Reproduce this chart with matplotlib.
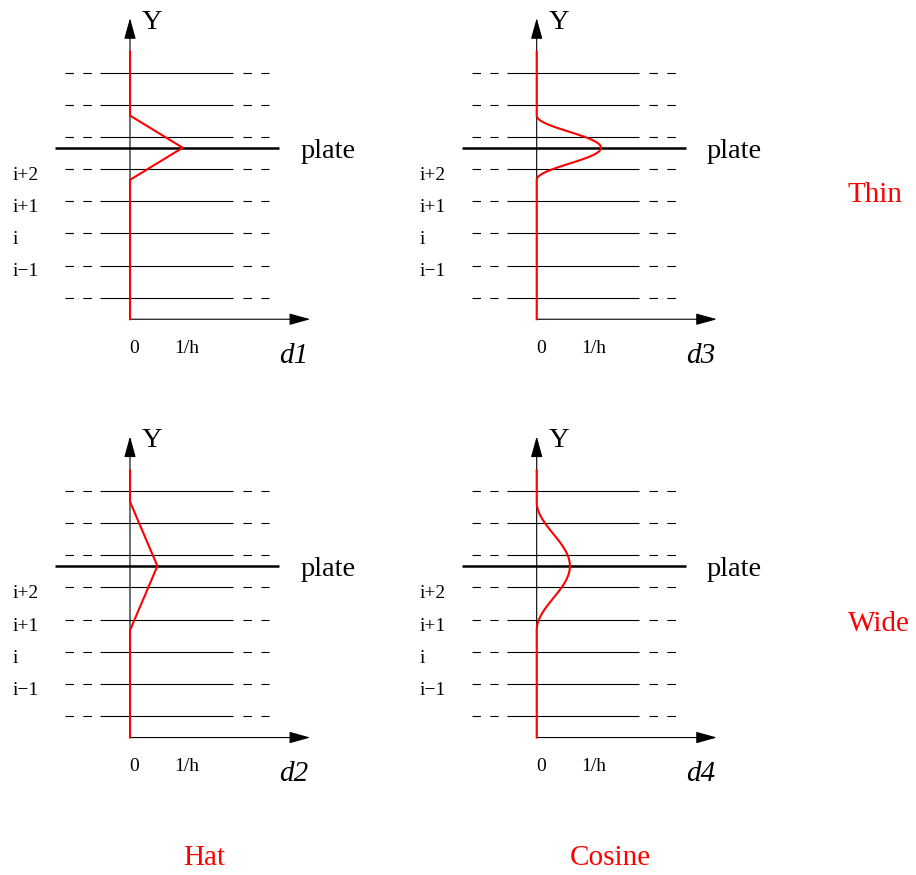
# -*- coding: utf-8 -*-
import numpy as np
import matplotlib.pyplot as plt

plt.rcParams['font.family'] = ['Liberation Serif', 'DejaVu Serif']
plt.rcParams['lines.scale_dashes'] = False

# -----------------------------
# DATA (y in grid cells, x in units of 1/h)
# -----------------------------
grid_levels = np.arange(8)
plate_level = 4 + 2 / 3
row_labels = ['i\u22121', 'i', 'i+1', 'i+2']
row_levels = [1, 2, 3, 4]
tick_values = [0, 1]
tick_labels = ['0', '1/h']

kernel_names = ['d1', 'd3', 'd2', 'd4']
kernel_shapes = ['hat', 'cosine', 'hat', 'cosine']
half_widths = [1, 1, 2, 2]
peaks = [1.0, 1.22, 0.52, 0.63]

# -----------------------------
# LAYOUT (pixels)
# -----------------------------
W, H = 916, 875
PX_X, PX_Y = 52.7, 32.14
XMIN, XMAX, YMIN, YMAX = -2.5, 4.3, -2.4, 9.0
origins = [(130, 297.7), (536.7, 297.7), (130, 716), (536.7, 716)]
axis_y = -0.67
red_top = 7.65

fig = plt.figure(figsize=(W / 100, H / 100), dpi=100)

for k, (ox, oy) in enumerate(origins):
    rect = [(ox + XMIN * PX_X) / W, (H - oy + YMIN * PX_Y) / H,
            (XMAX - XMIN) * PX_X / W, (YMAX - YMIN) * PX_Y / H]
    ax = fig.add_axes(rect)
    ax.set_xlim(XMIN, XMAX)
    ax.set_ylim(YMIN, YMAX)
    ax.axis('off')

    # grid lines: dashed ends, solid middle
    for j in grid_levels:
        for x0, x1 in [(-1.23, -0.73), (2.14, 2.64)]:
            ax.plot([x0, x1], [j, j], color='k', lw=0.8,
                    ls=(0, (6.1, 6.8)), dash_capstyle='butt')
        ax.plot([-0.57, 1.95], [j, j], color='k', lw=0.8,
                solid_capstyle='butt')

    # plate
    ax.plot([-1.42, 2.83], [plate_level, plate_level], color='k', lw=1.8,
            solid_capstyle='butt')
    ax.text(3.23, plate_level - 0.317, 'plate', fontsize=20.5, va='baseline')

    # axes with arrows
    arrow = dict(arrowstyle='-|>,head_length=1.3,head_width=0.36', color='k',
                 lw=0.8, shrinkA=0, shrinkB=0)
    ax.annotate('', xy=(0, 8.7), xytext=(0, axis_y), arrowprops=arrow)
    ax.annotate('', xy=(3.42, axis_y), xytext=(0, axis_y), arrowprops=arrow)
    ax.text(0.22, 8.36, 'Y', fontsize=20.5, va='baseline')

    for lab, lev in zip(row_labels, row_levels):
        ax.text(-2.23, lev - 0.34, lab, fontsize=14, va='baseline')

    for val, lab in zip(tick_values, tick_labels):
        ax.annotate(lab, xy=(val, -1.72), xytext=(3, 0),
                    textcoords='offset points', fontsize=14,
                    ha='center', va='baseline')
    ax.text(2.83, -2.03, kernel_names[k], fontsize=21, style='italic',
            va='baseline')

    # kernel profile
    c, w, p = plate_level, half_widths[k], peaks[k]
    if kernel_shapes[k] == 'hat':
        yk = np.array([c - w, c, c + w])
        xk = np.array([0, p, 0])
    else:
        yk = np.linspace(c - w, c + w, 121)
        xk = p * 0.5 * (1 + np.cos(np.pi * (yk - c) / w))
    ax.plot(np.r_[0, xk, 0], np.r_[axis_y, yk, red_top], color='red',
            lw=1.5, zorder=5)

# row / column captions
fig.text(848 / W, 1 - 201.7 / H, 'Thin', color='red', fontsize=21,
         va='baseline')
fig.text(848 / W, 1 - 631 / H, 'Wide', color='red', fontsize=21,
         va='baseline')
fig.text(204.5 / W, 1 - 865 / H, 'Hat', color='red', fontsize=21,
         ha='center', va='baseline')
fig.text(610.3 / W, 1 - 865 / H, 'Cosine', color='red', fontsize=21,
         ha='center', va='baseline')

fig.savefig('out.png', dpi=100)
